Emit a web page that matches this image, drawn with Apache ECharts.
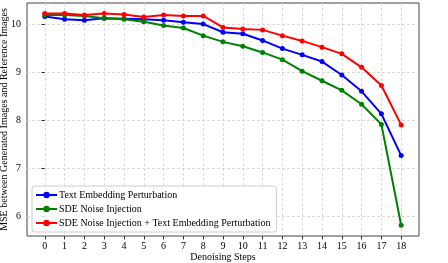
<!DOCTYPE html>
<html>
<head>
<meta charset="utf-8">
<script src="https://cdn.jsdelivr.net/npm/echarts@6/dist/echarts.min.js"></script>
<style>html,body{margin:0;padding:0;background:#fff}#c{width:448px;height:263px}</style>
</head>
<body>
<div id="c"></div>
<script>
const steps = [0,1,2,3,4,5,6,7,8,9,10,11,12,13,14,15,16,17,18];
const yTicks = [6,7,8,9,10];
const textEmb = [10.16,10.10,10.08,10.12,10.11,10.10,10.08,10.04,10.00,9.83,9.80,9.66,9.49,9.36,9.22,8.94,8.60,8.13,7.26];
const sdeNoise = [10.19,10.19,10.17,10.12,10.10,10.05,9.97,9.92,9.76,9.63,9.54,9.41,9.26,9.02,8.82,8.62,8.33,7.91,5.81];
const combined = [10.22,10.22,10.19,10.22,10.20,10.15,10.19,10.17,10.17,9.93,9.90,9.88,9.76,9.65,9.52,9.38,9.10,8.72,7.90];
const names = ['Text Embedding Perturbation','SDE Noise Injection','SDE Noise Injection + Text Embedding Perturbation'];
const colors = ['#0000ff','#008000','#ff0000'];

const font = 'Liberation Serif';
const chart = echarts.init(document.getElementById('c'), null, {renderer:'canvas'});
const mk = (name, vals, color) => ({
  name, type:'line', data: steps.map((s,i)=>[s, vals[i]]),
  symbol:'circle', symbolSize:5, showSymbol:true,
  lineStyle:{color, width:2}, itemStyle:{color}, animation:false
});
chart.setOption({
  animation:false,
  grid:{left:27, right:29, top:3, bottom:27, containLabel:false, outerBoundsMode:'none',
    show:true, borderColor:'#444', borderWidth:1, backgroundColor:'transparent'},
  xAxis:{type:'value', min:-0.9, max:18.9, minInterval:1, maxInterval:1,
    name:'Denoising Steps', nameLocation:'middle', nameGap:16, nameMoveOverlap:false,
    nameTextStyle:{fontFamily:font, fontSize:10, color:'#000'},
    axisLine:{show:false},
    axisTick:{show:true, inside:false, length:3.5, lineStyle:{color:'#333'}, customValues:steps},
    axisLabel:{fontFamily:font, fontSize:10, color:'#000', margin:5, showMinLabel:true, showMaxLabel:true, customValues:steps, formatter:v=>String(v)},
    splitLine:{show:true, lineStyle:{color:'#d0d0d0', type:[3,2], width:0.8}}
  },
  yAxis:{type:'value', min:5.585, max:10.44, minInterval:1, maxInterval:1,
    name:'MSE between Generated Images and Reference Images', nameLocation:'middle', nameGap:18, nameMoveOverlap:false,
    nameTextStyle:{fontFamily:font, fontSize:10, color:'#000'},
    axisLine:{show:false},
    axisTick:{show:true, inside:false, length:3.5, lineStyle:{color:'#333'}, customValues:yTicks},
    axisLabel:{fontFamily:font, fontSize:10, color:'#000', margin:6, showMinLabel:true, showMaxLabel:true, customValues:yTicks, formatter:v=>String(v)},
    splitLine:{show:true, lineStyle:{color:'#d0d0d0', type:[3,2], width:0.8}}
  },
  legend:{orient:'vertical', left:32, top:186, data:names,
    itemWidth:21, itemHeight:8, itemGap:2, padding:[3,6,3,3],
    backgroundColor:'rgba(255,255,255,0.85)', borderColor:'#ccc', borderWidth:1, borderRadius:3,
    textStyle:{fontFamily:font, fontSize:10, color:'#000', lineHeight:12, padding:[0,0,0,-3]}
  },
  series:[mk(names[0], textEmb, colors[0]), mk(names[1], sdeNoise, colors[1]), mk(names[2], combined, colors[2])]
});
</script>
</body>
</html>
